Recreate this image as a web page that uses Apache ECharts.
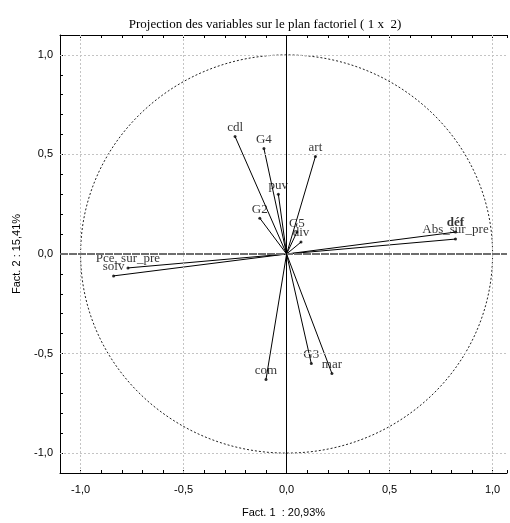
<!DOCTYPE html>
<html>
<head>
<meta charset="utf-8">
<script src="https://cdn.jsdelivr.net/npm/echarts@6/dist/echarts.min.js"></script>
<style>html,body{margin:0;padding:0;background:#fff;}#c{width:510px;height:523px;}</style>
</head>
<body>
<div id="c"></div>
<script>
// Variables projected on factorial plane (Fact.1 x Fact.2)
const varNames = ['cdl', 'G4', 'art', 'puv', 'G2', 'G5', 'div', 'déf', 'Abs_sur_pre', 'Pce_sur_pre', 'solv', 'com', 'G3', 'mar'];
const fact1 = [-0.25, -0.11, 0.14, -0.04, -0.13, 0.05, 0.07, 0.82, 0.82, -0.77, -0.84, -0.10, 0.12, 0.22];
const fact2 = [0.59, 0.53, 0.49, 0.30, 0.18, 0.11, 0.06, 0.11, 0.075, -0.07, -0.11, -0.63, -0.55, -0.60];
const majorTicks = [-1.0, -0.5, 0.0, 0.5, 1.0];
const titleText = 'Projection des variables sur le plan factoriel ( 1 x  2)';
const xName = 'Fact. 1  : 20,93%';
const yName = 'Fact. 2 : 15,41%';

const chart = echarts.init(document.getElementById('c'));
const fmt = v => {
  const isMajor = majorTicks.some(m => Math.abs(m - v) < 1e-6);
  if (!isMajor) return '';
  return (Math.abs(v) < 1e-9 ? 0 : v).toFixed(1).replace('.', ',');
};
const axisFont = { fontFamily: 'Liberation Sans', fontSize: 11, color: '#000' };
const gridLineStyle = { color: '#c4c4c4', width: 1, type: [2, 2] };
const gridMarks = [];
majorTicks.forEach(v => {
  if (v !== 0) {
    gridMarks.push({ xAxis: v, lineStyle: gridLineStyle });
    gridMarks.push({ yAxis: v, lineStyle: gridLineStyle });
  }
});
gridMarks.push({ yAxis: 0, lineStyle: { color: '#6e6e6e', width: 2, type: [8, 1] } });
gridMarks.push({ xAxis: 0, lineStyle: { color: '#000', width: 1, type: 'solid' } });

const option = {
  animation: false,
  backgroundColor: '#fff',
  title: {
    text: titleText,
    left: 260, top: 13, textAlign: 'center',
    textStyle: { fontFamily: 'Liberation Serif', fontSize: 13, fontWeight: 'normal', color: '#000' }
  },
  grid: { left: 60, top: 35, right: 0, height: 441 },
  xAxis: [{
    type: 'value', min: -1.1, max: 1.07, interval: 0.1, position: 'bottom',
    axisLine: { show: true, onZero: false, lineStyle: { color: '#000', width: 1 } },
    axisTick: { show: true, inside: true, length: 3, lineStyle: { color: '#000' } },
    axisLabel: Object.assign({ formatter: fmt, margin: 11 }, axisFont),
    splitLine: { show: false },
    name: xName, nameLocation: 'middle', nameGap: 34,
    nameTextStyle: axisFont
  }, {
    type: 'value', min: -1.1, max: 1.07, interval: 0.1, position: 'top',
    axisLine: { show: true, onZero: false, lineStyle: { color: '#000', width: 1 } },
    axisTick: { show: true, inside: true, length: 3, lineStyle: { color: '#000' } },
    axisLabel: { show: false },
    splitLine: { show: false }
  }],
  yAxis: [{
    type: 'value', min: -1.1, max: 1.1, interval: 0.1,
    axisLine: { show: true, onZero: false, lineStyle: { color: '#000', width: 1 } },
    axisTick: { show: true, inside: true, length: 3, lineStyle: { color: '#000' } },
    axisLabel: Object.assign({ formatter: fmt, margin: 7 }, axisFont),
    splitLine: { show: false },
    name: yName, nameLocation: 'middle', nameGap: 38, nameRotate: 90,
    nameTextStyle: axisFont
  }],
  series: [
    {
      type: 'line', data: [], silent: true,
      markLine: { silent: true, symbol: 'none', label: { show: false }, animation: false, data: gridMarks }
    },
    {
      type: 'custom', silent: true, data: [[0, 0]],
      renderItem: (params, api) => {
        const c = api.coord([0, 0]);
        const s = api.size([1, 1]);
        return {
          type: 'ellipse',
          shape: { cx: c[0], cy: c[1], rx: s[0], ry: s[1] },
          style: { fill: 'transparent', stroke: '#222', lineWidth: 1, lineDash: [2, 2] }
        };
      }
    },
    {
      type: 'lines', coordinateSystem: 'cartesian2d', silent: true,
      lineStyle: { color: '#000', width: 1, opacity: 1 },
      data: varNames.map((n, i) => ({ coords: [[0, 0], [fact1[i], fact2[i]]] }))
    },
    {
      type: 'scatter', symbolSize: 3, itemStyle: { color: '#000' },
      data: varNames.map((n, i) => ({
        name: n, value: [fact1[i], fact2[i]],
        label: n === 'déf' ? { fontWeight: 'bold' } : undefined
      })),
      label: {
        show: true, position: 'top', distance: 1, formatter: '{b}',
        fontFamily: 'Liberation Serif', fontSize: 13, color: '#000'
      }
    }
  ]
};
chart.setOption(option);
</script>
</body>
</html>
